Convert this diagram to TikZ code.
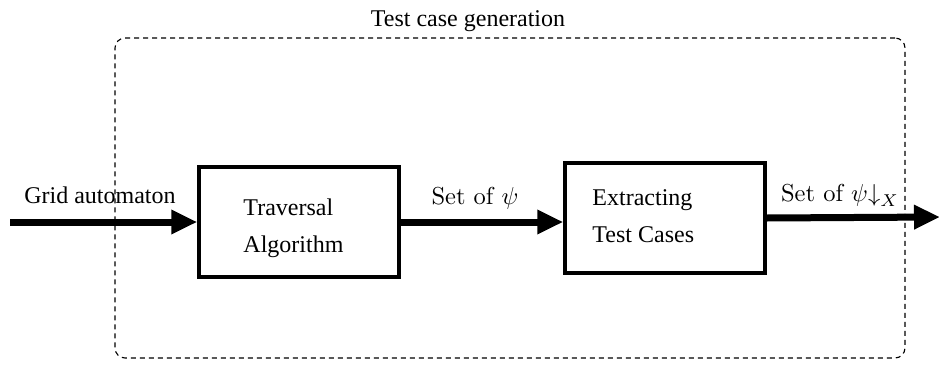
\documentclass[tikz,border=0pt]{standalone}
\usepackage{fontspec}
\newfontfamily\tmsfont{Liberation Serif}
\usetikzlibrary{arrows.meta}
\tikzset{
  blockbox/.style={draw, line width=3.5pt, minimum width=200pt, minimum height=110pt, inner sep=0pt},
  bigarrow/.style={line width=7pt, -{Triangle[length=26pt,width=23pt]}},
  frame/.style={draw, line width=1.1pt, dash pattern=on 5pt off 4pt, rounded corners=10pt, minimum width=790pt, minimum height=320pt, inner sep=0pt},
  tlabel/.style={font=\tmsfont\fontsize{24}{37}\selectfont, inner sep=0pt},
  mlabel/.style={font=\fontsize{10}{12}\selectfont, inner sep=0pt},
}
\begin{document}
\begin{tikzpicture}[x=1pt,y=-1pt]
\useasboundingbox (0,0) rectangle (939,364);
\node[frame] (fr) at (510,198) {};
\node[tlabel, anchor=base] (title) at (468,27) {Test case generation};
\node[blockbox] (A) at (299,222) {};
\node[blockbox] (B) at (665,218) {};
\node[tlabel, anchor=west, align=left] (ta) at ([xshift=46pt,yshift=-6pt]A.west) {Traversal\\Algorithm};
\node[tlabel, anchor=west, align=left] (tb) at ([xshift=29pt,yshift=2pt]B.west) {Extracting\\Test Cases};
\coordinate (in) at (10,222);
\coordinate (out) at (940,217);
\draw[bigarrow] (in) -- (A.west);
\draw[bigarrow] (A.east) -- (A.east -| B.west);
\draw[bigarrow] (B.east) -- (out);
\node[tlabel, anchor=base] (lg) at (100,203) {Grid automaton};
\node[mlabel, anchor=base] (lp) at (475,204) {\scalebox{2.45}{Set of $\psi$}};
\node[mlabel, anchor=base] (lx) at (840,201) {\scalebox{2.45}{Set of $\psi{\downarrow}_X$}};
\end{tikzpicture}
\end{document}
